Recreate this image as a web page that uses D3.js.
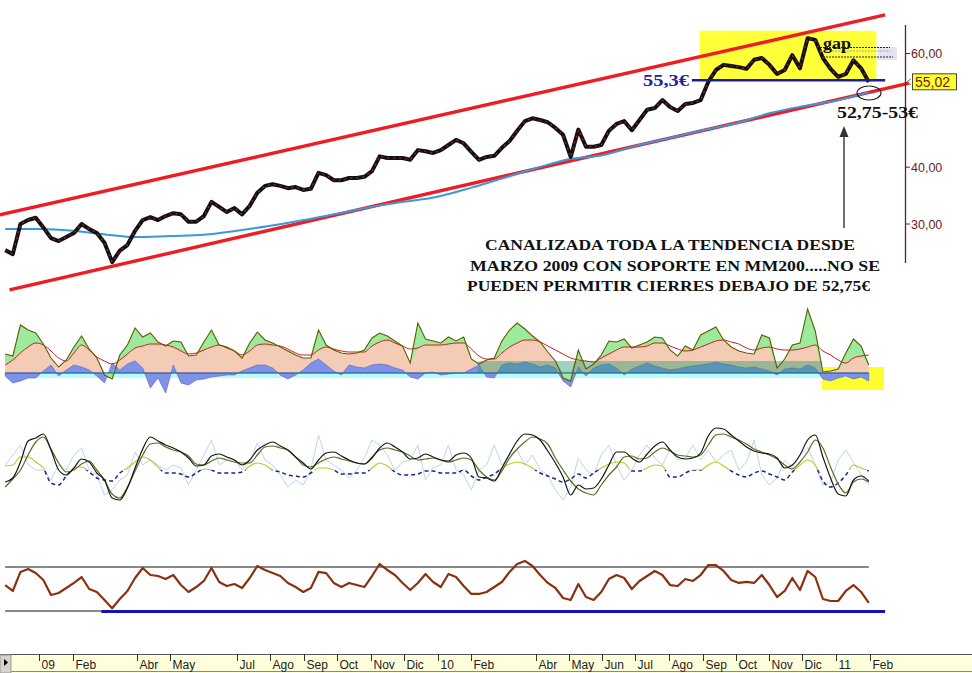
<!DOCTYPE html>
<html><head><meta charset="utf-8">
<script src="https://cdn.jsdelivr.net/npm/d3@7"></script>
<style>body{margin:0;background:#fff}svg{display:block}</style>
</head><body>
<svg id="c" width="972" height="673"></svg>
<script>
// ---------- DATA ----------
const firstWeek = "2008-12-01";
const closes = [25.4,24.7,30.0,30.7,31.1,29.4,27.5,27.0,27.7,28.4,
30.0,29.1,28.4,26.7,23.3,25.3,26.3,28.8,30.7,31.2,
30.7,31.4,31.9,31.7,30.4,30.4,31.4,33.9,33.0,32.1,
32.8,31.7,33.2,35.5,36.7,37.0,36.7,36.3,36.5,36.0,
36.2,39.0,38.6,37.7,37.7,38.1,38.1,38.3,39.3,41.9,
41.6,41.6,41.6,41.3,43.0,42.8,42.5,43.0,43.9,44.8,
44.2,42.7,41.3,41.8,42.0,43.4,44.6,46.4,48.1,48.6,
48.3,47.9,46.9,45.7,41.8,46.6,43.6,43.6,43.9,46.4,
47.6,48.1,46.5,48.3,50.1,50.4,51.8,50.6,49.9,51.1,
51.3,51.8,55.0,57.1,58.0,57.8,57.6,57.3,58.9,59.2,
58.0,56.4,57.1,59.7,57.4,62.7,62.4,59.2,57.3,55.9,
56.4,58.8,57.4,55.0];
const ma200Dates = ["2008-12-01","2009-01-01","2009-02-01","2009-03-01","2009-04-01","2009-05-01","2009-06-01","2009-07-01","2009-08-01","2009-09-01","2009-10-01","2009-11-01","2009-12-01","2010-01-01","2010-02-01","2010-03-01","2010-04-01","2010-05-01","2010-06-01","2010-07-01","2010-08-01","2010-09-01","2010-10-01","2010-11-01","2010-12-01","2011-01-01","2011-01-31"];
const ma200 = [29.1,29.1,28.8,28.2,27.7,27.9,28.1,28.8,29.7,30.7,31.8,33.0,33.9,34.8,36.4,38.0,39.8,41.4,42.1,43.7,45.1,46.5,47.7,49.5,50.7,51.7,53.2];
const upperChannelDates = ["2008-11-26","2011-02-15"];
const upperChannel = [31.6,66.8];
const lowerChannelDates = ["2008-12-05","2011-03-09"];
const lowerChannel = [18.4,54.8];
const supportLevel = 55.3;
const supportDates = ["2010-08-22","2011-02-15"];
const lastPrice = 55.02;
const priceTicks = [60,40,30];

// indicator 1 (oscillator with signal and histogram)
const oscLine = [19,17,48,43,40,29,15,6,13,26,
37,24,15,-2,-6,18,28,45,36,40,
31,27,32,31,17,18,31,43,28,26,
22,15,30,41,33,30,26,22,18,15,
15,43,28,23,20,19,20,23,35,40,
37,32,27,10,50,34,32,30,36,32,
36,14,9,13,15,32,43,50,44,37,
31,21,12,-5,-8,23,4,9,18,32,
31,34,25,28,31,36,35,23,17,27,
23,38,42,46,33,26,22,20,19,38,
35,5,14,28,30,64,42,1,2,4,
20,34,27,8];
const oscAvg = [8,13,20,26,30,28,22,15,12,20,
28,23,16,12,9,13,19,25,27,29,
29,28,26,22,19,20,23,26,28,25,
22,18,22,28,29,28,27,24,20,18,
18,23,26,24,22,21,21,21,27,31,
33,30,27,24,25,28,28,28,29,30,
30,24,17,14,14,20,26,30,33,33,
31,27,23,19,15,13,12,11,15,19,
23,26,26,26,27,30,30,27,24,22,
23,26,29,32,33,31,29,25,23,25,
26,24,23,23,24,26,28,22,18,13,
10,15,17,18];
const oscHist = [-3,-10,-8,-5,-5,2,8,-3,3,8,
6,3,-3,-10,10,3,9,12,5,-15,
-5,-20,8,-10,-12,-7,-6,-4,-3,-2,
-2,2,5,8,8,5,-2,-6,-2,3,
10,14,8,2,-2,8,6,5,8,9,
8,5,3,-4,-6,0,1,-2,-1,0,
0,4,8,-4,-5,8,10,9,11,9,
6,8,5,-8,-14,6,-3,5,8,9,
5,-2,4,7,10,7,5,3,4,6,
7,8,9,11,9,8,6,5,6,4,
2,-2,4,5,4,8,5,-6,-8,-5,
-3,-6,-4,-8];
const tealBandDates = ["2010-02-07","2010-12-19"];
const tealBandLevel = 12;

// indicator 2 (stochastic family)
const stochK = [43,47,63,84,87,91,75,55,50,57,
66,63,52,45,27,25,37,57,76,88,
84,80,77,73,67,59,60,69,71,68,
65,60,65,75,80,83,79,75,68,62,
56,65,72,73,69,65,62,61,67,77,
82,78,73,66,67,71,68,65,64,70,
72,67,48,47,44,57,71,84,91,90,
85,74,62,48,30,40,36,37,46,60,
73,73,67,63,71,79,83,75,68,66,
67,72,89,97,96,90,84,78,74,72,
71,67,57,60,70,85,90,68,47,31,
29,45,49,44];
const stochD = [38,46,55,70,83,88,76,62,53,55,
61,64,55,45,31,27,38,54,70,81,
82,78,75,73,69,61,60,64,67,65,
63,62,62,70,78,79,77,75,68,60,
58,62,66,68,66,64,62,61,68,75,
77,75,73,69,65,66,67,65,63,65,
67,65,55,48,45,54,67,76,83,88,
86,81,67,55,44,36,32,30,40,50,
58,68,69,66,67,73,77,74,70,69,
68,70,80,90,91,88,85,81,76,73,
70,66,60,56,63,73,85,77,58,41,
32,43,46,43];
const stochSignal = [59,60,68,68,63,57,42,40,49,57,
58,53,47,45,44,52,57,63,68,65,
58,52,52,51,48,52,56,55,52,52,
52,53,59,62,60,55,53,50,49,48,
52,57,57,55,51,51,52,52,57,62,
59,53,50,50,51,54,54,52,52,52,
55,49,45,48,51,57,61,63,61,57,
52,49,46,43,46,51,47,52,57,61,
63,62,54,54,57,60,59,48,48,52,
55,55,60,63,59,54,50,48,52,54,
51,48,45,53,60,65,60,44,38,42,
50,60,57,54];
const stochSignalSplit = 55;
const stochFast = [60,70,80,60,55,55,45,60,55,70,
77,55,50,30,35,45,50,73,60,65,
60,55,60,57,40,55,70,85,60,65,
65,55,63,82,65,60,50,38,45,40,
55,90,65,60,55,47,55,67,85,80,
70,55,63,65,80,45,57,60,80,55,
50,35,55,60,80,60,70,75,60,70,
55,50,35,25,38,67,55,50,70,80,
60,45,55,70,80,67,60,75,65,67,
80,65,75,63,70,75,55,63,85,50,
40,47,65,57,70,78,60,40,43,65,
75,63,50,40];

// indicator 3 (RSI)
const rsi = [53.6,48.2,65.5,68.2,64.5,58.2,44.5,46.4,50.9,55.5,
60.9,50.0,47.3,40.0,32.5,40.9,48.2,60.0,69.1,62.7,
61.8,59.1,62.7,53.6,47.3,51.8,57.3,69.1,56.4,52.7,
54.5,50.9,60.0,70.9,67.3,64.5,61.8,55.5,51.8,47.3,
50.9,65.5,64.5,55.5,51.8,55.5,53.6,51.8,61.8,72.7,
67.3,62.7,55.5,49.1,55.5,63.6,56.4,51.8,63.6,60.9,
52.7,45.5,45.5,47.3,51.8,56.4,65.5,72.7,75.5,70.9,
62.7,55.5,50.9,41.8,40.0,54.5,42.7,40.0,47.3,59.1,
62.7,60.0,50.0,57.3,61.8,66.4,62.7,53.6,52.7,59.1,
57.3,62.7,71.8,71.8,66.4,58.2,55.5,56.4,55.5,62.7,
53.6,42.7,48.2,60.0,49.1,66.4,60.9,40.9,39.1,39.1,
48.2,53.6,47.3,37.3];
const rsiLevels = [70,30];
const rsiSupportDates = ["2009-02-27","2011-02-15"];

// axis
const tickDates = ["2009-01-01","2009-02-01","2009-04-01","2009-05-01","2009-07-01","2009-08-01","2009-09-01","2009-10-01","2009-11-01","2009-12-01","2010-01-01","2010-02-01","2010-04-01","2010-05-01","2010-06-01","2010-07-01","2010-08-01","2010-09-01","2010-10-01","2010-11-01","2010-12-01","2011-01-01","2011-02-01"];
const tickLabels = ["09","Feb","Abr","May","Jul","Ago","Sep","Oct","Nov","Dic","10","Feb","Abr","May","Jun","Jul","Ago","Sep","Oct","Nov","Dic","11","Feb"];

// highlight zones
const boxDates = ["2010-08-29","2011-02-07"];
const boxRange = [55.2,64.0];
const oscBoxDates = ["2010-12-19","2011-02-14"];
const oscBoxRange = [-17,6];

const notes = ["CANALIZADA TODA LA TENDENCIA DESDE","MARZO 2009 CON SOPORTE EN MM200.....NO SE","PUEDEN PERMITIR CIERRES DEBAJO DE 52,75€"];

// ---------- DRAW ----------
const P = d3.timeParse("%Y-%m-%d");
const svg = d3.select("#c");
const x = d3.scaleTime().domain([new Date(2009,0,1), new Date(2011,0,1)]).range([39,836]);
const yP = d3.scaleLinear().domain([30,60]).range([224,53.5]);
const yI = d3.scaleLinear().domain([0,60]).range([373,313]);
const yS = d3.scaleLinear().domain([0,100]).range([525,425]);
const yR = d3.scaleLinear().domain([30,70]).range([611,567]);

const start = P(firstWeek);
const weeks = closes.map((_,i)=>d3.timeDay.offset(start, i*7));
const first = weeks[0], last = weeks[weeks.length-1];

// ---- price panel ----
svg.append("rect").attr("x",x(P(boxDates[0]))).attr("y",yP(boxRange[1]))
  .attr("width",x(P(boxDates[1]))-x(P(boxDates[0]))).attr("height",yP(boxRange[0])-yP(boxRange[1]))
  .attr("fill","#ffff3a");
svg.append("rect").attr("x",878).attr("y",47).attr("width",19).attr("height",13).attr("fill","#e4e4f0");

const chan = (ds, vs) => svg.append("line")
  .attr("x1",x(P(ds[0]))).attr("y1",yP(vs[0])).attr("x2",x(P(ds[1]))).attr("y2",yP(vs[1]))
  .attr("stroke","#ee1c24").attr("stroke-width",3.4);
chan(upperChannelDates, upperChannel);
chan(lowerChannelDates, lowerChannel);

svg.append("path").datum(ma200.map((v,i)=>[P(ma200Dates[i]),v]))
  .attr("d", d3.line().x(d=>x(d[0])).y(d=>yP(d[1])).curve(d3.curveMonotoneX))
  .attr("fill","none").attr("stroke","#3a9ad9").attr("stroke-width",2);

const priceLine = d3.line().x((d,i)=>x(weeks[i])).y(d=>yP(d));
svg.append("path").datum(closes).attr("d",priceLine)
  .attr("fill","none").attr("stroke","#111").attr("stroke-width",4).attr("stroke-linejoin","round");
svg.append("path").datum(closes).attr("d",priceLine)
  .attr("fill","none").attr("stroke","#a02424").attr("stroke-width",1.2).attr("stroke-dasharray","2,4");

svg.append("line").attr("x1",x(P(supportDates[0]))).attr("x2",x(P(supportDates[1])))
  .attr("y1",yP(supportLevel)).attr("y2",yP(supportLevel)).attr("stroke","#1a1a9a").attr("stroke-width",2.5);

// gap dotted lines
[[817,890,47.5,"#223"],[820,890,51,"#9aa"],[823,893,57,"#223"]].forEach(a=>{
  svg.append("line").attr("x1",a[0]).attr("x2",a[1]).attr("y1",a[2]).attr("y2",a[2])
   .attr("stroke",a[3]).attr("stroke-width",1).attr("stroke-dasharray","2,1");
});
svg.append("text").attr("x",823).attr("y",49).attr("font-family","Liberation Serif").attr("font-weight","bold")
  .attr("font-size",16).attr("textLength",28).attr("lengthAdjust","spacingAndGlyphs").attr("fill","#111").text("gap");

// right axis
const axC = "#6e1a1a";
svg.append("line").attr("x1",905.5).attr("x2",905.5).attr("y1",25).attr("y2",263).attr("stroke",axC).attr("stroke-width",1.3);
priceTicks.forEach(t=>{
  svg.append("line").attr("x1",905).attr("x2",910).attr("y1",yP(t)).attr("y2",yP(t)).attr("stroke",axC);
  svg.append("text").attr("x",911).attr("y",yP(t)+4.5).attr("font-family","Liberation Sans").attr("font-size",12.5)
    .attr("fill",axC).text(d3.format(".2f")(t).replace(".",","));
});
svg.append("rect").attr("x",912.5).attr("y",yP(lastPrice)-8).attr("width",44).attr("height",16)
  .attr("fill","#ffff30").attr("stroke","#444").attr("stroke-width",1);
svg.append("text").attr("x",915).attr("y",yP(lastPrice)+5.5).attr("font-family","Liberation Sans").attr("font-size",14)
  .attr("fill",axC).text(d3.format(".2f")(lastPrice).replace(".",","));
svg.append("path").attr("d",`M911,${yP(lastPrice)-3} L907,${yP(lastPrice)} L911,${yP(lastPrice)+3}`)
  .attr("fill","none").attr("stroke","#777").attr("stroke-width",1);

// annotations
svg.append("text").attr("x",643).attr("y",86).attr("font-family","Liberation Serif").attr("font-weight","bold")
  .attr("font-size",16).attr("textLength",46).attr("lengthAdjust","spacingAndGlyphs").attr("fill","#1f22a6")
  .text(d3.format(".1f")(supportLevel).replace(".",",")+"€");
svg.append("ellipse").attr("cx",869).attr("cy",93).attr("rx",12).attr("ry",7)
  .attr("fill","none").attr("stroke","#222").attr("stroke-width",1.2);
svg.append("text").attr("x",837).attr("y",118).attr("font-family","Liberation Serif").attr("font-weight","bold")
  .attr("font-size",17).attr("textLength",81).attr("lengthAdjust","spacingAndGlyphs").attr("fill","#111").text("52,75-53€");
svg.append("line").attr("x1",844).attr("x2",844).attr("y1",228).attr("y2",134).attr("stroke","#333").attr("stroke-width",1.4);
svg.append("path").attr("d","M844,126 L839.5,137 L848.5,137 Z").attr("fill","#333");

const noteX = [[485,370],[470,410],[467,403]];
notes.forEach((t,i)=>{
  svg.append("text").attr("x",noteX[i][0]).attr("y",250+i*20.5).attr("font-family","Liberation Serif")
    .attr("font-weight","bold").attr("font-size",15.5).attr("textLength",noteX[i][1])
    .attr("lengthAdjust","spacingAndGlyphs").attr("fill","#111").text(t);
});

// ---- indicator 1 ----
const ind = weeks.map((d,i)=>({d, o:oscLine[i], r:oscAvg[i], b:oscHist[i]}));
svg.append("rect").attr("x",x(P(oscBoxDates[0]))).attr("y",yI(oscBoxRange[1]))
  .attr("width",x(P(oscBoxDates[1]))-x(P(oscBoxDates[0]))).attr("height",yI(oscBoxRange[0])-yI(oscBoxRange[1]))
  .attr("fill","#ffff30");
svg.append("rect").attr("x",x(first)).attr("y",yI(1)).attr("width",x(last)-x(first)).attr("height",yI(-5)-yI(1))
  .attr("fill","#b4ffff");
svg.append("path").datum(ind).attr("d",d3.area().x(d=>x(d.d)).y0(yI(0)).y1(d=>yI(Math.max(0,d.o))))
  .attr("fill","#f4ccb6");
svg.append("path").datum(ind).attr("d",d3.area().x(d=>x(d.d)).y0(yI(0)).y1(d=>yI(d.b)))
  .attr("fill","#7f92ea").attr("stroke","#4a62c8").attr("stroke-width",0.6);
svg.append("path").datum(ind).attr("d",d3.area().x(d=>x(d.d))
    .y0(d=>yI(d.o>=0?Math.min(d.r,d.o):0)).y1(d=>yI(d.o)))
  .attr("fill","#9ceb9c");
svg.append("rect").attr("x",x(P(tealBandDates[0]))).attr("y",yI(tealBandLevel))
  .attr("width",x(P(tealBandDates[1]))-x(P(tealBandDates[0]))).attr("height",yI(0)-yI(tealBandLevel))
  .attr("fill","#2f9a72").attr("opacity",0.45);
svg.append("path").datum(ind).attr("d",d3.line().x(d=>x(d.d)).y(d=>yI(d.r)).curve(d3.curveMonotoneX))
  .attr("fill","none").attr("stroke","#cc1e1e").attr("stroke-width",1);
svg.append("path").datum(ind).attr("d",d3.line().x(d=>x(d.d)).y(d=>yI(d.o)))
  .attr("fill","none").attr("stroke","#5c5c00").attr("stroke-width",1.1);
svg.append("line").attr("x1",x(first)).attr("x2",x(last)).attr("y1",yI(0)).attr("y2",yI(0))
  .attr("stroke","#2d5f8f").attr("stroke-width",1);

// ---- indicator 2 ----
const sl = (arr) => d3.line().x((d,i)=>x(weeks[i])).y(d=>yS(d)).curve(d3.curveMonotoneX)(arr);
svg.append("path").attr("d",d3.line().x((d,i)=>x(weeks[i])).y(d=>yS(d))(stochFast))
  .attr("fill","none").attr("stroke","#b9d6f2").attr("stroke-width",1);
const defs = svg.append("defs");
defs.append("clipPath").attr("id","sigHi").append("rect").attr("x",0).attr("y",400).attr("width",972).attr("height",yS(stochSignalSplit)-400);
defs.append("clipPath").attr("id","sigLo").append("rect").attr("x",0).attr("y",yS(stochSignalSplit)).attr("width",972).attr("height",540-yS(stochSignalSplit));
svg.append("path").attr("d",sl(stochSignal)).attr("clip-path","url(#sigHi)")
  .attr("fill","none").attr("stroke","#c6c62a").attr("stroke-width",1.2);
svg.append("path").attr("d",sl(stochSignal)).attr("clip-path","url(#sigLo)")
  .attr("fill","none").attr("stroke","#182a82").attr("stroke-width",1.5).attr("stroke-dasharray","4,3");
svg.append("path").attr("d",sl(stochD)).attr("fill","none").attr("stroke","#557020").attr("stroke-width",1.2);
svg.append("path").attr("d",sl(stochK)).attr("fill","none").attr("stroke","#151515").attr("stroke-width",1.2);

// ---- indicator 3 ----
svg.append("line").attr("x1",x(first)).attr("x2",x(last)).attr("y1",yR(rsiLevels[0])).attr("y2",yR(rsiLevels[0]))
  .attr("stroke","#111").attr("stroke-width",1);
svg.append("line").attr("x1",x(first)).attr("x2",x(P(rsiSupportDates[0]))).attr("y1",yR(rsiLevels[1])).attr("y2",yR(rsiLevels[1]))
  .attr("stroke","#111").attr("stroke-width",1);
svg.append("line").attr("x1",x(P(rsiSupportDates[0]))).attr("x2",x(P(rsiSupportDates[1])))
  .attr("y1",yR(rsiLevels[1])+0.5).attr("y2",yR(rsiLevels[1])+0.5).attr("stroke","#1414b4").attr("stroke-width",3);
svg.append("path").attr("d",d3.line().x((d,i)=>x(weeks[i])).y(d=>yR(d))(rsi))
  .attr("fill","none").attr("stroke","#8a3210").attr("stroke-width",2.2).attr("stroke-linejoin","round");

// ---- bottom time axis ----
svg.append("rect").attr("x",0).attr("y",654).attr("width",972).attr("height",19).attr("fill","#ffffdc");
svg.append("line").attr("x1",0).attr("x2",972).attr("y1",654.5).attr("y2",654.5).attr("stroke","#555");
svg.append("line").attr("x1",0).attr("x2",972).attr("y1",671.5).attr("y2",671.5).attr("stroke","#888");
svg.append("rect").attr("x",0).attr("y",655).attr("width",11).attr("height",18).attr("fill","#d6d3cb").attr("stroke","#999");
svg.append("path").attr("d","M4,659 L8,662.5 L4,666 Z").attr("fill","#000");
tickDates.forEach((t,i)=>{
  const tx = Math.round(x(P(t)))+0.5;
  svg.append("line").attr("x1",tx).attr("x2",tx).attr("y1",654).attr("y2",661).attr("stroke","#333");
  svg.append("text").attr("x",tx+2).attr("y",669).attr("font-family","Liberation Sans").attr("font-size",12)
    .attr("fill","#222").text(tickLabels[i]);
});
</script>
</body></html>
